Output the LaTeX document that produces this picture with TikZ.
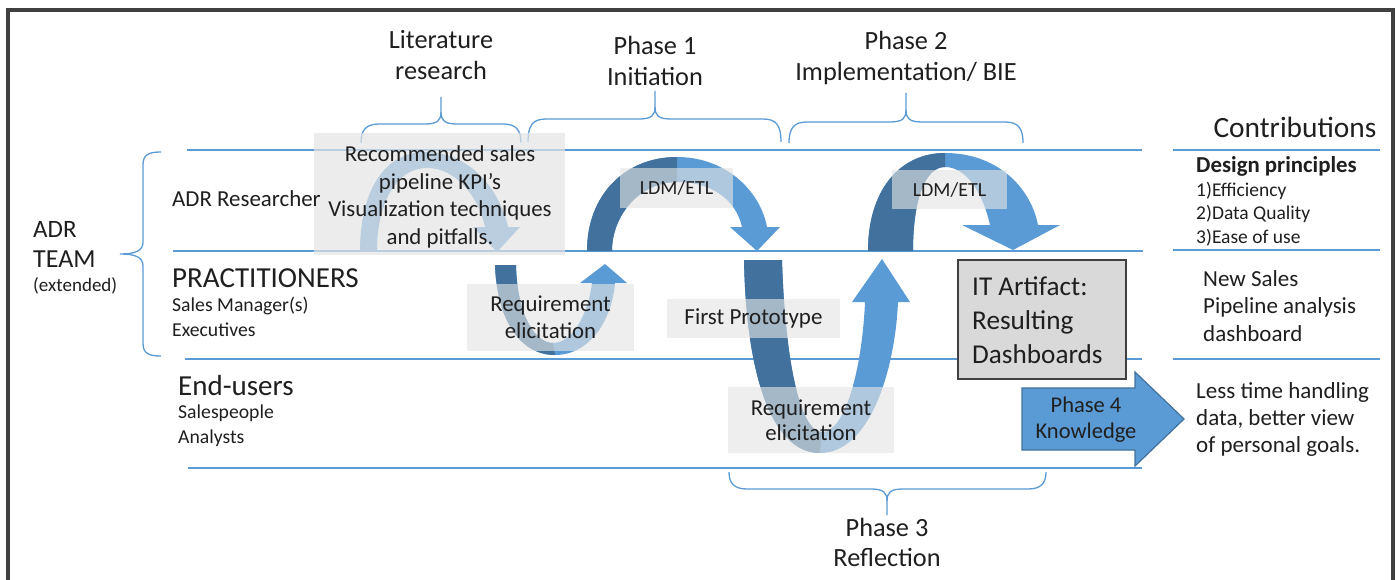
\documentclass[tikz,border=0pt]{standalone}
\usepackage{fontspec}
\setmainfont{Carlito}
\definecolor{ppblue}{HTML}{5B9BD5}
\definecolor{ppdark}{HTML}{41719C}
\definecolor{txt}{HTML}{1F1F1F}
\definecolor{boxgray}{HTML}{E4E4E4}
\definecolor{artgray}{HTML}{D9D9D9}
\definecolor{framegray}{HTML}{404040}
\newcommand\fs[2]{\fontsize{#1}{#2}\selectfont}
% horizontal curly brace: x1, x2, xm, ybase, ymid, ytip, sign (1 = tip up, -1 = tip down)
\newcommand\hbrace[7]{%
  \draw[bracestyle] (#1,#4) .. controls (#1,{#5+6*#7}) and ({#1+5},#5) .. ({#1+18},#5)
    -- ({#3-16},#5) .. controls ({#3-3},#5) and (#3,{#5-4*#7}) .. (#3,{#5-12*#7}) -- (#3,#6);
  \draw[bracestyle] (#2,#4) .. controls (#2,{#5+6*#7}) and ({#2-5},#5) .. ({#2-18},#5)
    -- ({#3+16},#5) .. controls ({#3+3},#5) and (#3,{#5-4*#7}) .. (#3,{#5-12*#7});
}
\begin{document}
\begin{tikzpicture}[x=1pt,y=-1pt,
  lane/.style={ppblue, line width=1.8pt},
  bracestyle/.style={ppblue, line width=1.3pt},
  lbl/.style={text=txt, inner sep=0pt, align=center},
  lft/.style={text=txt, inner sep=0pt, align=left, anchor=west},
  graybox/.style={fill=boxgray, fill opacity=0.62, text opacity=1, text=txt, draw=none,
                  inner sep=0pt, align=center},
  lightarrow/.style={fill=ppblue, draw=none},
  darkarrow/.style={fill=ppdark, draw=none}]

\useasboundingbox (0,0) rectangle (1396,580);
\clip (0,0) rectangle (1396,580);
\fill[white] (0,0) rectangle (1396,580);
\draw[framegray, line width=4pt] (7.5,10.5) rectangle (1392.5,650);

% lanes
\draw[lane] (187,150) -- (1142,150);
\draw[lane] (173,251) -- (1143,251);
\draw[lane] (185,359) -- (1142,359);
\draw[lane] (188,468) -- (1142,468);
\draw[lane] (1173,150) -- (1380,150);
\draw[lane] (1173,250) -- (1380,250);
\draw[lane] (1173,359) -- (1380,359);

% braces
\hbrace{361}{521}{441}{143}{124}{97}{1}
\hbrace{528}{781}{655}{142}{119}{91}{1}
\hbrace{789}{1023}{906}{143}{122}{93}{1}
\hbrace{729}{1046}{887}{472}{489}{515}{-1}
\draw[bracestyle] (161,152) .. controls (148,152) and (143,155) .. (143,165) -- (143,242)
  .. controls (143,251) and (135,254) .. (120,254)
  .. controls (135,254) and (143,257) .. (143,266) -- (143,343)
  .. controls (143,353) and (148,356) .. (161,356);

% arrow 1 (literature research)
\fill[lightarrow] (360,251) .. controls (360,190) and (385,152) .. (425,152)
  .. controls (470,152) and (500,190) .. (508,227) -- (520,227) -- (497,252) -- (473,227) -- (485,227)
  .. controls (478,195) and (455,168) .. (427,168) .. controls (395,168) and (377,205) .. (377,251) -- cycle;
% arrow 2 (small U)
\fill[lightarrow] (495,265) .. controls (497,320) and (520,355) .. (555,355)
  .. controls (590,355) and (612,320) .. (615,283) -- (627,283) -- (605,264) -- (580,283) -- (592,283)
  .. controls (588,315) and (572,343) .. (553,343) .. controls (535,343) and (517,315) .. (516,265) -- cycle;
\fill[darkarrow] (495,265) .. controls (497,320) and (520,355) .. (555,355)
  -- (553,343) .. controls (535,343) and (517,315) .. (516,265) -- cycle;
% arrow 3 (LDM/ETL 1)
\fill[lightarrow] (587,251) .. controls (587,195) and (625,157) .. (677,157)
  .. controls (725,157) and (760,190) .. (767,227) -- (780,227) -- (757,251) -- (730,227) -- (742,227)
  .. controls (736,200) and (712,182) .. (677,182) .. controls (640,182) and (612,215) .. (612,251) -- cycle;
\fill[darkarrow] (587,251) .. controls (587,195) and (625,157) .. (677,157)
  -- (677,182) .. controls (640,182) and (612,215) .. (612,251) -- cycle;
% arrow 4 (big U)
\fill[lightarrow] (744,260) .. controls (746,370) and (770,453) .. (820,453)
  .. controls (870,453) and (895,370) .. (898,302) -- (910,302) -- (882,259) -- (852,302) -- (865,302)
  .. controls (862,370) and (845,432) .. (822,432) .. controls (800,432) and (785,360) .. (782,260) -- cycle;
\fill[darkarrow] (744,260) .. controls (746,370) and (770,453) .. (820,453)
  -- (822,432) .. controls (800,432) and (785,360) .. (782,260) -- cycle;
% arrow 5 (LDM/ETL 2)
\fill[lightarrow] (868,251) .. controls (868,190) and (900,153) .. (945,153)
  .. controls (995,153) and (1030,185) .. (1038,225) -- (1060,225) -- (1013,250) -- (962,225) -- (990,225)
  .. controls (982,190) and (965,167) .. (945,167) .. controls (925,167) and (913,200) .. (913,251) -- cycle;
\fill[darkarrow] (868,251) .. controls (868,190) and (900,153) .. (945,153)
  -- (945,167) .. controls (925,167) and (913,200) .. (913,251) -- cycle;

% gray label boxes
\node[graybox, fill opacity=0.7, minimum width=251pt, minimum height=122pt] (rec) at (439.5,194) {};
\node[lbl, font=\fs{22.8}{27.5}] (rectxt) at (440,197)
  {Recommended sales\\pipeline KPI’s\\Visualization techniques\\and pitfalls.};
\node[graybox, minimum width=167pt, minimum height=67pt, font=\fs{22.8}{27}] (req1) at (550.5,317.5)
  {Requirement\\elicitation};
\node[graybox, minimum width=113pt, minimum height=40pt, font=\fs{20}{24}] (ldm1) at (676.5,188)
  {LDM/ETL};
\node[graybox, minimum width=115pt, minimum height=39pt, font=\fs{20}{24}] (ldm2) at (949.5,189.5)
  {LDM/ETL};
\node[graybox, minimum width=173pt, minimum height=39pt, font=\fs{23}{27}] (proto) at (753.5,318.5)
  {First Prototype};
\node[graybox, minimum width=166pt, minimum height=66pt, font=\fs{22.8}{25}] (req2) at (811,420)
  {Requirement\\elicitation};

% IT artifact
\node[draw=framegray, line width=2pt, fill=artgray, minimum width=168pt, minimum height=119pt,
      inner sep=0pt] (art) at (1042,319.5) {};
\node[lft, font=\fs{27.2}{34}] (arttxt) at (972,320) {IT Artifact:\\Resulting\\Dashboards};

% phase 4 arrow
\draw[fill=ppblue, draw=ppdark, line width=1.2pt] (1022,388) -- (1135,388) -- (1135,372) -- (1184,419)
  -- (1135,466) -- (1135,450) -- (1022,450) -- cycle;
\node[lbl, font=\fs{22.5}{26}] (ph4) at (1086,420) {Phase 4\\Knowledge};

% top labels
\node[lbl, font=\fs{26.3}{31}] (lit) at (441,55) {Literature\\research};
\node[lbl, font=\fs{26.3}{31}] (ph1) at (655,61) {Phase 1\\Initiation};
\node[lbl, font=\fs{26.3}{31}] (ph2) at (906,58) {Phase 2\\Implementation/ BIE};
\node[lbl, font=\fs{26.3}{30}] (ph3) at (887,542) {Phase 3\\Reflection};

% left labels
\node[lft, font=\fs{25}{30}] (adr) at (33,229) {ADR};
\node[lft, font=\fs{26}{30}] (team) at (33,259) {TEAM};
\node[lft, font=\fs{19}{22}] (ext) at (33,286) {(extended)};
\node[lft, font=\fs{22.9}{26}] (res) at (172,199) {ADR Researcher};
\node[lft, font=\fs{29}{32}] (prac) at (172,278) {PRACTITIONERS};
\node[lft, font=\fs{19.7}{22}] (sm) at (172,306) {Sales Manager(s)};
\node[lft, font=\fs{19.7}{22}] (exe) at (172,330) {Executives};
\node[lft, font=\fs{29}{32}] (endu) at (178,386) {End-users};
\node[lft, font=\fs{19.7}{22}] (sp) at (178,413) {Salespeople};
\node[lft, font=\fs{19.7}{22}] (an) at (178,438) {Analysts};

% right labels
\node[lbl, font=\fs{29.4}{32}] (contr) at (1295,127) {Contributions};
\node[lft, font=\fs{22.8}{25}\bfseries] (dp) at (1196,166) {Design principles};
\node[lft, font=\fs{19.5}{20}] (e1) at (1196,191) {1)Efficiency};
\node[lft, font=\fs{19.5}{20}] (e2) at (1196,214) {2)Data Quality};
\node[lft, font=\fs{19.5}{20}] (e3) at (1196,238) {3)Ease of use};
\node[lft, font=\fs{23}{27.5}] (nsp) at (1203,306) {New Sales\\Pipeline analysis\\dashboard};
\node[lft, font=\fs{23}{27}] (less) at (1196,419) {Less time handling\\data, better view\\of personal goals.};
\end{tikzpicture}
\end{document}
